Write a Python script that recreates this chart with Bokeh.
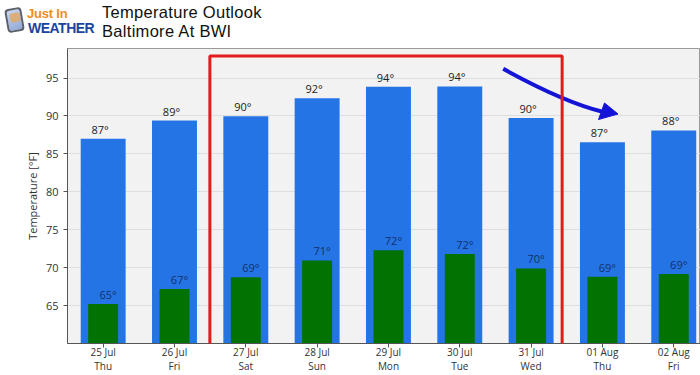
from bokeh.plotting import figure
from bokeh.models import ColumnDataSource, FixedTicker, Label, Range1d, Div
from bokeh.layouts import column
from bokeh.core.properties import value
from bokeh.embed import file_html
from bokeh.resources import INLINE

# ---- data ----
dates = ["25 Jul", "26 Jul", "27 Jul", "28 Jul", "29 Jul", "30 Jul", "31 Jul", "01 Aug", "02 Aug"]
weekdays = ["Thu", "Fri", "Sat", "Sun", "Mon", "Tue", "Wed", "Thu", "Fri"]
highs = [87.0, 89.4, 89.95, 92.35, 93.85, 93.9, 89.75, 86.55, 88.1]
lows = [65.2, 67.2, 68.75, 70.95, 72.3, 71.8, 69.9, 68.8, 69.15]
high_labels = ["87°", "89°", "90°", "92°", "94°", "94°", "90°", "87°", "88°"]
low_labels = ["65°", "67°", "69°", "71°", "72°", "72°", "70°", "69°", "69°"]
y_ticks = [65, 70, 75, 80, 85, 90, 95]
title_lines = ["Temperature Outlook", "Baltimore At BWI"]
logo_words = ["Just In", "WEATHER"]

# ---- layout (page pixels) ----
W, H = 700, 375
HEAD = 40
BL, BT, BB, BR = 67, 8, 32, 0
Y0, Y1 = 60, 98.9
X0, X1 = -0.5, 8.375
frame_l, frame_r = BL, W - BR
frame_t, frame_b = HEAD + BT, H - BB      # page coordinates

def dx(px):
    return X0 + (px - frame_l) / (frame_r - frame_l) * (X1 - X0)

def dy(py):
    return Y0 + (frame_b - py) / (frame_b - frame_t) * (Y1 - Y0)

xs = list(range(len(dates)))
src = ColumnDataSource(dict(x=xs, high=highs, low=lows, hl=high_labels, ll=low_labels))

p = figure(width=W, height=H - HEAD, output_backend="svg", toolbar_location=None,
           x_range=Range1d(X0, X1), y_range=Range1d(Y0, Y1),
           min_border_left=BL, min_border_right=BR, min_border_top=BT, min_border_bottom=BB,
           margin=0)
p.background_fill_color = "#f2f2f3"
p.border_fill_color = "white"
p.outline_line_color = "#9a9a9a"
p.outline_line_width = 1

p.xgrid.grid_line_color = None
p.ygrid.grid_line_color = "#dedede"
p.ygrid.ticker = FixedTicker(ticks=y_ticks)

p.yaxis.ticker = FixedTicker(ticks=y_ticks)
p.yaxis.axis_label = "Temperature [°F]"
p.yaxis.axis_label_text_font = "Open Sans"
p.yaxis.axis_label_text_font_style = "normal"
p.yaxis.axis_label_text_font_size = "11px"
p.yaxis.axis_label_text_color = "#333333"
p.yaxis.axis_label_standoff = 3
p.yaxis.major_label_text_font = "Open Sans"
p.yaxis.major_label_text_font_size = "11px"
p.yaxis.major_label_text_color = "#333333"
p.yaxis.major_label_standoff = 5
p.yaxis.major_tick_out = 4
p.yaxis.major_tick_in = 0
p.yaxis.minor_tick_line_color = None
p.yaxis.axis_line_color = "#555555"
p.yaxis.major_tick_line_color = "#555555"

p.xaxis.ticker = FixedTicker(ticks=xs)
p.xaxis.major_label_overrides = {i: f"{d}\n{w}" for i, (d, w) in enumerate(zip(dates, weekdays))}
p.xaxis.major_label_text_font = "Open Sans"
p.xaxis.major_label_text_font_size = "10px"
p.xaxis.major_label_text_color = "#333333"
p.xaxis.major_label_text_line_height = 1.0
p.xaxis.major_label_standoff = -3
p.xaxis.major_tick_out = 4
p.xaxis.major_tick_in = 0
p.xaxis.minor_tick_line_color = None
p.xaxis.axis_line_color = "#555555"
p.xaxis.major_tick_line_color = "#555555"

# bars
p.vbar(x="x", top="high", bottom=Y0, width=0.63, source=src,
       fill_color="#2474e6", line_color=None)
p.vbar(x="x", top="low", bottom=Y0, width=0.42, source=src,
       fill_color="#027202", line_color=None)

p.text(x="x", y="high", text="hl", source=src, text_align="center", text_baseline="bottom",
       x_offset=-3, y_offset=-2, text_font=value("Open Sans"), text_font_size="11px",
       text_color="#222222")
p.text(x="x", y="low", text="ll", source=src, text_align="center", text_baseline="bottom",
       x_offset=5, y_offset=-2, text_font=value("Open Sans"), text_font_size="11px",
       text_color="#15306a")

# blue curved arrow
p.quadratic(x0=dx(502.7), y0=dy(68.3), x1=dx(603), y1=dy(111.5), cx=dx(563), cy=dy(101.6),
            line_color="#1414d6", line_width=4)
p.patch(x=[dx(598), dx(604), dx(617.5)], y=[dy(119), dy(102.5), dy(113.5)],
        fill_color="#1414d6", line_color="#1414d6", line_width=1)

# red highlight box (reaches below the axis) drawn as an empty bordered label
l, t, r, b = 209, 56, 562, 372
hw, hh = (r - l) / 2.0, (b - t) / 2.0
p.add_layout(Label(x=(l + r) / 2.0 - frame_l, y=frame_b - (t + b) / 2.0,
                   x_units="screen", y_units="screen", text=" ",
                   text_font_size="1px", text_align="center", text_baseline="middle",
                   border_line_color="#e31b1b", border_line_width=3,
                   padding=dict(top=int(hh), bottom=int(hh), left=int(hw), right=int(hw))))

# header (logo + title) as HTML
head_html = f"""
<div style="position:relative;width:{W}px;height:{HEAD}px;overflow:hidden;white-space:nowrap;">
  <div style="position:absolute;left:6px;top:8px;width:17px;height:24px;border:2px solid #5a5f6b;
              border-radius:4px;background:linear-gradient(160deg,#c9d6ee,#8fa8d6);transform:rotate(-10deg);"></div>
  <div style="position:absolute;left:10px;top:13px;width:10px;height:9px;border-radius:2px;
              background:#e9a557;opacity:0.75;transform:rotate(-10deg);"></div>
  <div style="position:absolute;left:27px;top:7px;font:bold 13px 'Liberation Sans';line-height:14px;
               color:#f08c1c;letter-spacing:-0.2px;">{logo_words[0]}<br>
    <span style="font-size:14px;color:#1b44a0;letter-spacing:-0.5px;margin-left:1px;">{logo_words[1]}</span></div>
  <div style="position:absolute;left:102px;top:3.4px;font:16.5px 'Liberation Sans';line-height:18.5px;
               letter-spacing:0.3px;color:#111111;">{title_lines[0]}<br>{title_lines[1]}</div>
</div>
"""
head = Div(text=head_html, width=W, height=HEAD, margin=0)

layout = column(head, p, spacing=0, margin=0)
open("out.html", "w").write(file_html(layout, INLINE))
